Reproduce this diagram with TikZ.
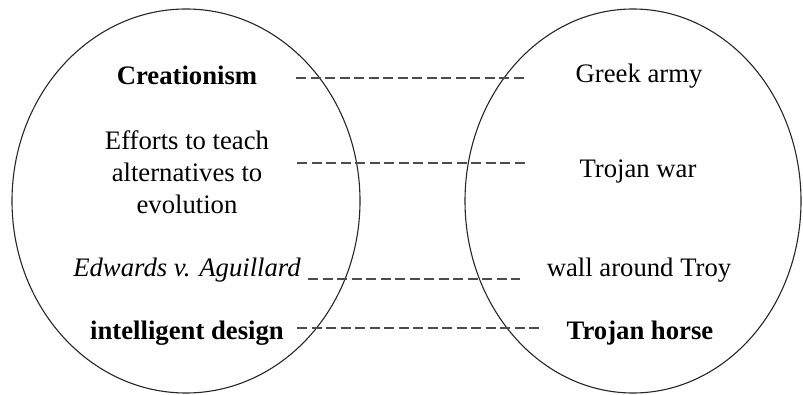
\documentclass[tikz,border=0pt]{standalone}
\usepackage{fontspec}
\setmainfont{Liberation Serif}
\begin{document}
\begin{tikzpicture}[x=1pt,y=-1pt,
  lbl/.style={inner sep=0pt,align=center,font=\fontsize{26.7}{32}\selectfont},
  boldlbl/.style={lbl,font=\fontsize{26.7}{32}\selectfont\bfseries},
  itlbl/.style={lbl,font=\fontsize{26.7}{32}\selectfont\itshape},
  ring/.style={draw=black!85,line width=1.1pt},
  link/.style={draw=black!70,line width=1.4pt,dash pattern=on 10pt off 4.5pt}]
\useasboundingbox (0,0) rectangle (803,395);
% ellipses
\draw[ring] (186,201) ellipse [x radius=174, y radius=192];
\draw[ring] (633,201) ellipse [x radius=168, y radius=192];
% left texts
\node[boldlbl] (creat) at (187,75) {Creationism};
\node[lbl] (effort) at (187,172) {Efforts to teach\\alternatives to\\evolution};
\node[itlbl] (edw) at (187,270) {Edwards v. Aguillard};
\node[boldlbl] (id) at (187,333) {intelligent design};
% right texts
\node[lbl] (greek) at (639,76) {Greek army};
\node[lbl] (war) at (638,172) {Trojan war};
\node[lbl] (wall) at (639,270) {wall around Troy};
\node[boldlbl] (horse) at (640,333) {Trojan horse};
% connector endpoints
\coordinate (a1) at (296,78);  \coordinate (b1) at (527,78);
\coordinate (a2) at (297,163); \coordinate (b2) at (528,163);
\coordinate (a3) at (308,279); \coordinate (b3) at (520,279);
\coordinate (a4) at (297,328); \coordinate (b4) at (543,328);
\draw[link] (a1) -- (b1);
\draw[link] (a2) -- (b2);
\draw[link] (a3) -- (b3);
\draw[link] (a4) -- (b4);
\end{tikzpicture}
\end{document}
